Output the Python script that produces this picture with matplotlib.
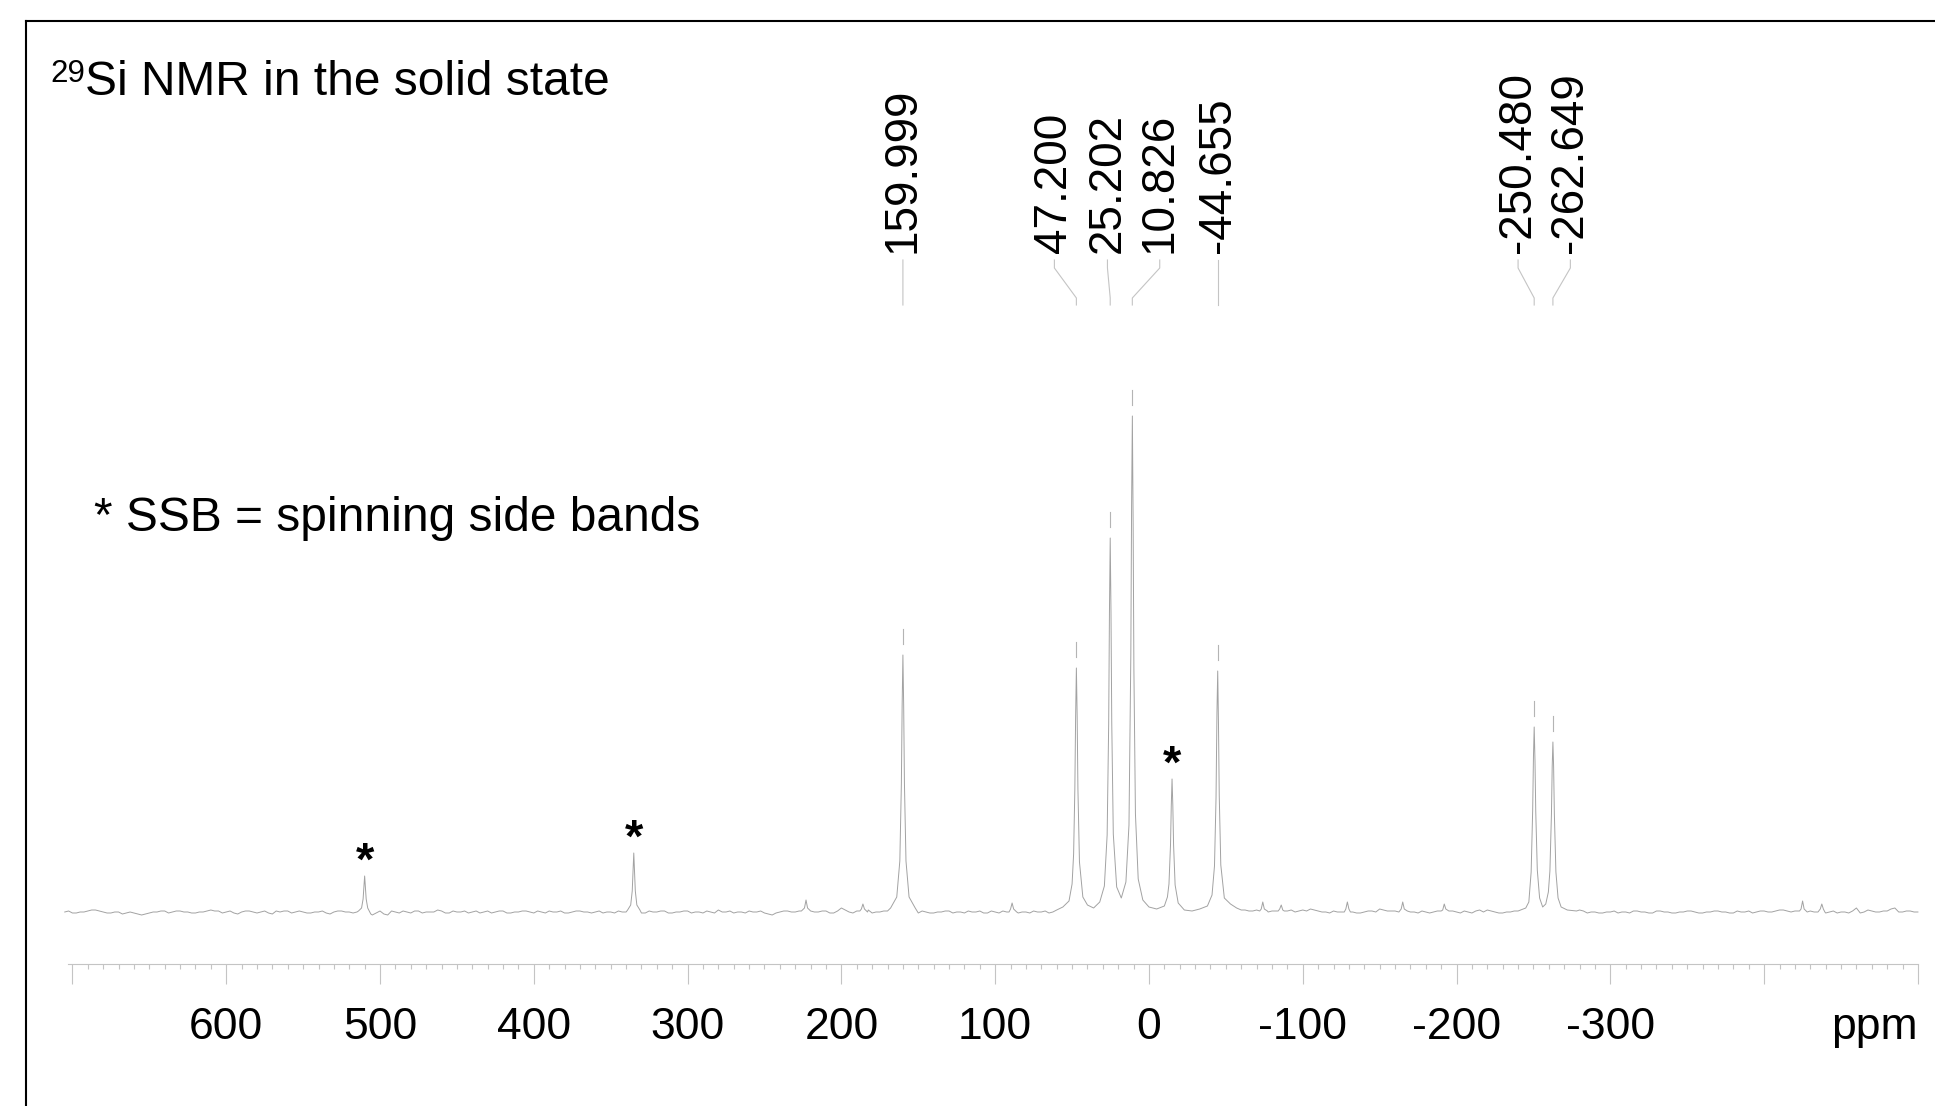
import numpy as np
import matplotlib
matplotlib.use('Agg')
import matplotlib.pyplot as plt
from matplotlib import font_manager
from matplotlib.lines import Line2D

# --- data (intensity in arbitrary units) ---

# baseline noise, one value every 5 ppm from 705 down to -500
base_ppm = np.arange(705, -501, -5)
base_int = [0, -1, 0, 1, 2, 0, -1, 0, -1, -1, -3, -1, 0, 1, 0, 1, 0, -1, 0, 2,
            1, 0, -1, 0, 1, -1, 1, -2, 0, 1, 0, 0, -1, 0, -1, 0, 1, 0, 0, 0,
            -3, 1, -3, 0, 1, -1, 1, 0, 0, 1, -1, 0, 1, 0, -1, 1, 0, 1, -1, 0,
            1, -1, 0, 1, 0, -1, 0, 1, 0, 0, -1, 0, 1, 0, 0, -1, 1, 0, 1, -1,
            0, 1, 0, -1, 0, 2, 0, -1, 0, 1, 0, -1, -3, 0, 1, 0, 2, 0, 0, 1,
            -1, 4, 0, 1, 0, -1, 0, 1, 2, 0, 1, -1, 0, -1, 0, 1, 0, -1, 0, 1,
            -1, 0, 1, 0, -1, 0, 1, 0, -1, 1, 2, 0, 0, 0, 1, 0, 0, 0, 1, 0,
            0, 1, 0, -1, 0, 1, 2, 0, 1, 0, 0, 2, 1, 0, 1, 2, 0, 1, 2, 1,
            0, 2, 3, 1, 0, 1, 0, 0, -1, 0, 1, 3, 1, 1, 0, 0, -1, 0, 0, 1,
            0, 0, 1, -1, 2, 2, 0, -1, 0, 1, 2, 0, 0, 0, 0, 1, 0, 2, -1, 0,
            -1, 0, -1, 0, 1, 0, -1, 1, 0, -1, 0, 1, 0, -1, 0, 1, 0, -1, 0, 1,
            0, 1, 0, 2, 1, 1, 0, 1, 0, -1, 1, 0, -1, 4, 0, 1, 0, 1, 4, 0,
            1, 0]
# in-between baseline values, from 702.5 down to -497.5
mid_ppm = np.arange(702.5, -500, -5)
mid_int = [1, -1, 0, 2, 1, -1, 0, -2, 0, -2, -2, 0, 1, -1, 1, 0, -1, 0, 1, 1,
           -1, 1, -2, 1, 0, 0, -1, 1, 1, -1, 1, -1, 0, 1, -2, 1, 0, -1, 1, 0,
           -1, -2, 1, -1, 0, 1, -1, 0, 2, -1, 1, 0, -1, 1, 0, -1, 1, -1, 0, 1,
           0, 1, -1, 0, 1, -1, 1, 0, -1, 1, 0, -1, 0, 1, 0, -1, 0, 1, -1, 0,
           1, -1, 0, 1, -1, 0, 1, 0, -1, 0, 1, -2, -1, 1, 0, 1, -1, 0, 1, -1,
           1, 2, -1, 0, 2, 0, 1, -1, 0, 1, 0, 1, -1, 0, 1, -1, 0, 1, 0, -1,
           1, -1, 0, 1, 0, -1, 0, 1, 0, 2, 1, 0, 1, 0, 1, 0, 1, 0, 1, 0,
           1, 0, 1, 0, 1, 0, 1, 0, 1, 0, 1, 0, 1, 2, 1, -1, 0, 1, 0, 2,
           1, 1, 2, 0, -1, 0, 1, 0, -1, 1, 0, 2, 1, 0, 1, 0, 1, -1, 1, 0,
           1, -1, 0, 1, 0, 1, -1, 0, 1, 0, 1, 0, 1, 0, 1, -1, 0, 1, 0, -1,
           0, 1, 0, -1, 1, 0, -1, 1, 0, -1, 0, 1, -1, 0, 1, 0, -1, 1, 0, -1,
           1, 0, 1, 2, 0, 1, -1, 0, 1, 0, -1, 0, 1, -1, 2, 0, 1, 3, 0, 1,
           0]

# spinning side bands
ssb510_ppm = [514, 512, 511, 510.5, 510, 509.5, 509, 508, 506]
ssb510_int = [1, 4, 13, 25, 36, 25, 13, 4, -2]
ssb335_ppm = [339, 337, 336, 335.5, 335, 334.5, 334, 333, 331]
ssb335_int = [2, 7, 21, 41, 59, 41, 21, 7, 2]

# isotropic line at 160 ppm
peak160_ppm = [168, 164, 162, 161, 160.5, 160, 159.5, 159, 158, 156, 152]
peak160_int = [4, 15, 51, 128, 206, 257, 206, 128, 51, 15, 4]

# 47.2 / 25.2 / 10.8 / SSB -15 / -44.7 group
cluster_ppm = [60, 56, 52, 50, 49, 48.2, 47.7, 47.2, 46.7, 46.2, 45.2, 43, 40,
               36, 32, 29, 27.2, 26.2, 25.7, 25.2, 24.7, 24.2, 23.2, 21, 18,
               15, 13, 11.8, 11.3, 10.8, 10.3, 9.8, 8.8, 7, 4, 0, -5, -10, -12,
               -13, -14, -14.5, -15, -15.5, -16, -17, -19, -23, -28, -33, -38,
               -41, -42.6, -43.6, -44.2, -44.7, -45.2, -45.7, -46.7, -49, -53,
               -57, -60]
cluster_int = [2, 5, 11, 28, 58, 123, 195, 244, 196, 123, 50, 15, 7,
               4, 10, 26, 77, 188, 300, 374, 300, 189, 78, 25, 14,
               30, 87, 257, 407, 496, 388, 242, 98, 33, 12, 5, 3, 6, 15,
               28, 67, 106, 133, 107, 67, 27, 9, 2, 1, 3, 6,
               17, 46, 114, 199, 241, 187, 116, 47, 14, 8,
               4, 2]

# -250.5 / -262.6 pair
pair_ppm = [-240, -245, -247, -248.5, -249.5, -250, -250.48, -251, -251.5,
            -252.5, -254, -256, -258, -259.7, -260.7, -261.7, -262.2, -262.65,
            -263.1, -263.6, -264.6, -266, -268, -272, -278]
pair_int = [1, 4, 10, 40, 102, 155, 185, 151, 100,
            42, 14, 5, 8, 20, 41, 98, 146, 170,
            146, 98, 40, 14, 5, 2, 1]

# small bumps in the baseline
small_bumps = [
    ([226, 224, 223, 222, 220], [1, 4, 12, 4, 1]),
    ([188, 187, 186, 185, 183], [1, 3, 8, 3, 0]),
    ([91, 90, 89, 88, 86], [0, 3, 9, 3, 0]),
    ([-72, -73, -74, -75, -77], [1, 3, 10, 3, 1]),
    ([-84, -85, -86, -87, -88], [1, 3, 7, 2, 1]),
    ([-127, -128, -129, -130, -131], [0, 3, 10, 3, 0]),
    ([-163, -164, -165, -166, -168], [1, 3, 10, 3, 1]),
    ([-190, -191, -192, -193, -195], [1, 2, 8, 3, 1]),
    ([-423, -424, -425, -426, -428], [1, 3, 11, 3, 0]),
    ([-435.5, -436.5, -437.5, -438.5, -439.5], [1, 3, 8, 3, 0]),
]

peak_labels = [159.999, 47.200, 25.202, 10.826, -44.655, -250.480, -262.649]
ssb_ppm = [510, 335, -15]
tick_values = [600, 500, 400, 300, 200, 100, 0, -100, -200, -300]

# --- assemble the trace ---
segments = [(ssb510_ppm, ssb510_int), (ssb335_ppm, ssb335_int),
            (peak160_ppm, peak160_int), (cluster_ppm, cluster_int),
            (pair_ppm, pair_int)] + small_bumps
bp = np.concatenate([base_ppm, mid_ppm])
bi = np.concatenate([np.asarray(base_int, float), np.asarray(mid_int, float)])
keep = np.ones(len(bp), bool)
for p, _ in segments:
    keep &= ~((bp >= min(p)) & (bp <= max(p)))
ppm = np.concatenate([bp[keep]] + [np.asarray(p, float) for p, _ in segments])
inten = np.concatenate([bi[keep]] + [np.asarray(i, float) for _, i in segments])
order = np.argsort(-ppm)
ppm, inten = ppm[order], inten[order]


def top_near(x, half=0.7):
    m = np.abs(ppm - x) <= half
    return inten[m].max()


# --- fonts ---
plt.rcParams['font.family'] = ['Liberation Sans', 'DejaVu Sans']
have_narrow = 'Liberation Sans Narrow' in {f.name for f in font_manager.fontManager.ttflist}
if have_narrow:
    big = dict(fontfamily='Liberation Sans Narrow', fontsize=42)
    sup = dict(fontfamily='Liberation Sans Narrow', fontsize=27)
    tick = dict(fontfamily='Liberation Sans Narrow', fontsize=38.5)
else:
    big = dict(fontfamily='Liberation Sans', fontsize=34.5)
    sup = dict(fontfamily='Liberation Sans', fontsize=22.5)
    tick = dict(fontfamily='Liberation Sans', fontsize=32)

trace_grey = '#a2a2a2'
axis_grey = '#c4c4c4'

W, H = 1935, 1106
fig = plt.figure(figsize=(W / 100, H / 100), dpi=100)
ax = fig.add_axes([0, 0, 1, 1])
ax.set_xlim(747.1, -511.1)
ax.set_ylim(-194, 912)
ax.patch.set_alpha(0)

for s in ['left', 'right', 'top']:
    ax.spines[s].set_visible(False)
sp = ax.spines['bottom']
sp.set_position(('data', -52))
sp.set_bounds(703, -500)
sp.set_color(axis_grey)
sp.set_linewidth(0.8)
ax.set_yticks([])
ax.set_xticks(np.arange(700, -501, -100))
ax.set_xticks(np.arange(700, -501, -10), minor=True)
ax.tick_params(axis='x', which='major', length=14.5, width=0.8,
               color=axis_grey, labelbottom=False, direction='out')
ax.tick_params(axis='x', which='minor', length=3.6, width=0.8,
               color=axis_grey, direction='out')
for v in tick_values:
    ax.text(v, -127, str(v), ha='center', va='baseline', color='k', **tick)
ax.text(-500, -127, 'ppm', ha='right', va='baseline', color='k', **tick)

# spectrum
ax.plot(ppm, inten, color=trace_grey, lw=0.7, solid_joinstyle='round')

# peak picking: marks above the peaks, connectors and labels
label_pos = [160, 61.5, 27, -7, -44.655, -240, -274]
for v, lx in zip(peak_labels, label_pos):
    t = top_near(v)
    ax.plot([v, v], [t + 11, t + 26], color='#b4b4b4', lw=0.8)
    ax.plot([lx, lx, v, v], [652, 644, 614, 607], color=axis_grey, lw=0.8)
    ax.text(lx, 659, f'{v:.3f}', rotation=90, ha='center', va='bottom',
            fontfamily='Liberation Sans', fontsize=33, color='k')

for s in ssb_ppm:
    ax.text(s, top_near(s) + 1, '*', ha='center', va='baseline',
            fontfamily='Liberation Sans', fontsize=34, fontweight='bold', color='k')

# titles
fig.text(85 / W, 1 - 95 / H, 'Si NMR in the solid state', ha='left', va='baseline', **big)
fig.text(85 / W, 1 - 82 / H, '29', ha='right', va='baseline', **sup)
fig.text(94 / W, 1 - 531 / H, '* SSB = spinning side bands', ha='left', va='baseline', **big)

# outer frame (runs off the right and bottom edges)
fig.add_artist(Line2D([26 / W, 26 / W], [1 - 21 / H, -0.02], transform=fig.transFigure,
                      color='k', lw=1.5))
fig.add_artist(Line2D([26 / W, 1.02], [1 - 21 / H, 1 - 21 / H], transform=fig.transFigure,
                      color='k', lw=1.5))

fig.savefig('out.png', dpi=100)
